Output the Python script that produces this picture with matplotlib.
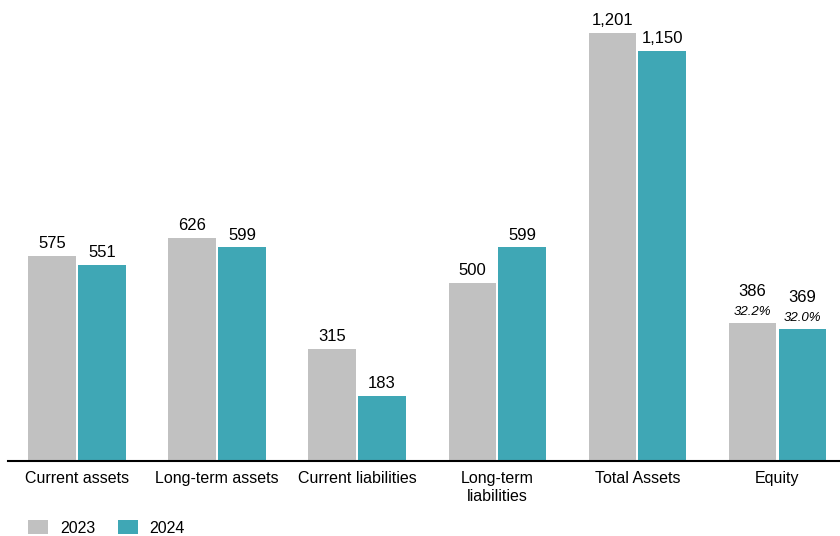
import matplotlib.pyplot as plt
import numpy as np

plt.rcParams['font.family'] = ['Liberation Sans', 'DejaVu Sans']

categories = ["Current assets", "Long-term assets", "Current liabilities",
              "Long-term\nliabilities", "Total Assets", "Equity"]
values_2023 = [575, 626, 315, 500, 1201, 386]
values_2024 = [551, 599, 183, 599, 1150, 369]
equity_share = ["32.2%", "32.0%"]

gray = "#c1c1c1"
teal = "#3fa7b5"

fig = plt.figure(figsize=(8.4, 5.36), dpi=100)
ax = fig.add_axes([8 / 840, 75 / 536, 832 / 840, 461 / 536])

x = np.arange(len(categories))
w = 0.34
off = 0.178
ax.bar(x - off, values_2023, w, color=gray, label="2023")
ax.bar(x + off, values_2024, w, color=teal, label="2024")

for i in range(len(categories)):
    for xpos, v, k in [(x[i] - off, values_2023[i], 0), (x[i] + off, values_2024[i], 1)]:
        if i == len(categories) - 1:
            ax.annotate(equity_share[k], (xpos, v), xytext=(0, 4), textcoords="offset points",
                        ha="center", va="bottom", fontsize=9.5, style="italic")
            ax.annotate(f"{v:,}", (xpos, v), xytext=(0, 17.5), textcoords="offset points",
                        ha="center", va="bottom", fontsize=12)
        else:
            ax.annotate(f"{v:,}", (xpos, v), xytext=(0, 3.5), textcoords="offset points",
                        ha="center", va="bottom", fontsize=12)

ax.set_xlim(-0.493, 5.447)
ax.set_ylim(0, 1293)
ax.set_xticks(x)
ax.set_xticklabels(categories, fontsize=11.5, va="top", linespacing=1.3)
ax.tick_params(axis="x", length=0, pad=7)
ax.set_yticks([])
for s in ["top", "right", "left"]:
    ax.spines[s].set_visible(False)
ax.spines["bottom"].set_linewidth(1.5)
ax.spines["bottom"].set_color("black")

fig.legend(loc="center left", bbox_to_anchor=(28 / 840, 8 / 536), ncol=2, frameon=False,
           fontsize=11.5, handlelength=1.25, handleheight=0.95, columnspacing=1.4,
           handletextpad=0.75, borderpad=0, borderaxespad=0)

fig.savefig("out.png", dpi=100)
